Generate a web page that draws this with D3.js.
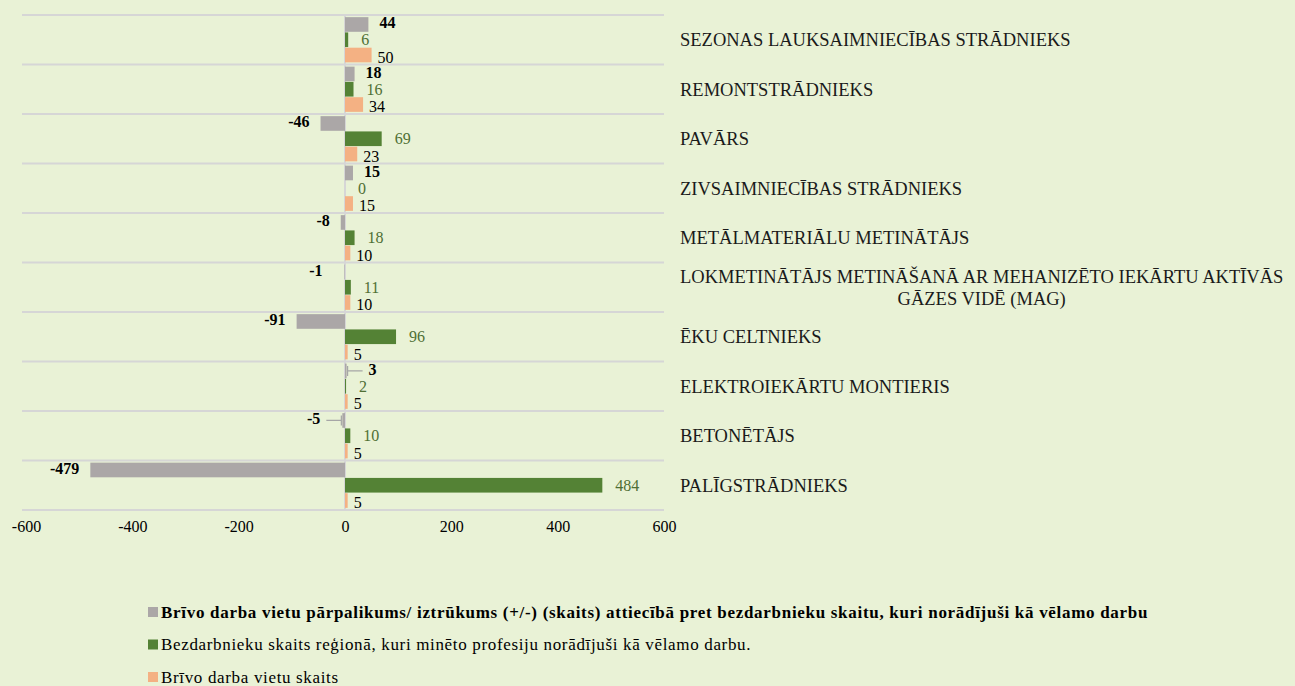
<!DOCTYPE html>
<html>
<head>
<meta charset="utf-8">
<script src="https://cdn.jsdelivr.net/npm/d3@7"></script>
<style>
  body { margin: 0; background: #e9f2d6; }
  svg { display: block; font-family: "Liberation Serif", "Times New Roman", serif; }
</style>
</head>
<body>
<div id="chart"></div>
<script>
const WIDTH = 1295;
const HEIGHT = 686;
const MARGINS = {left: 26, right: 631, top: 15, bottom: 176};

// data, top to bottom
const categories = [
  "SEZONAS LAUKSAIMNIECĪBAS STRĀDNIEKS",
  "REMONTSTRĀDNIEKS",
  "PAVĀRS",
  "ZIVSAIMNIECĪBAS STRĀDNIEKS",
  "METĀLMATERIĀLU METINĀTĀJS",
  "LOKMETINĀTĀJS METINĀŠANĀ AR MEHANIZĒTO IEKĀRTU AKTĪVĀS|GĀZES VIDĒ (MAG)",
  "ĒKU CELTNIEKS",
  "ELEKTROIEKĀRTU MONTIERIS",
  "BETONĒTĀJS",
  "PALĪGSTRĀDNIEKS"
];
const surplus = [44, 18, -46, 15, -8, -1, -91, 3, -5, -479];
const unemployed = [6, 16, 69, 0, 18, 11, 96, 2, 10, 484];
const vacancies = [50, 34, 23, 15, 10, 10, 5, 5, 5, 5];
const xTicks = [-600, -400, -200, 0, 200, 400, 600];

const seriesNames = [
  "Brīvo darba vietu pārpalikums/ iztrūkums (+/-) (skaits) attiecībā pret bezdarbnieku skaitu, kuri norādījuši kā vēlamo darbu",
  "Bezdarbnieku skaits reģionā, kuri minēto profesiju norādījuši kā vēlamo darbu.",
  "Brīvo darba vietu skaits"
];
const colors = ["#aba7a7", "#548235", "#f4b183"];
const labelColors = ["#000000", "#4f6f34", "#000000"];

const series = [surplus, unemployed, vacancies];
const keys = ["s0", "s1", "s2"];

let svg = d3.select("#chart")
  .append("svg")
    .attr("width", WIDTH)
    .attr("height", HEIGHT);

let x = d3.scaleLinear()
  .domain([-600, 600])
  .range([MARGINS.left, WIDTH - MARGINS.right]);

let y = d3.scaleBand()
  .domain(categories)
  .range([MARGINS.top, HEIGHT - MARGINS.bottom]);

let ySub = d3.scaleBand()
  .domain(keys)
  .range([0, y.bandwidth()])
  .paddingInner(0.04)
  .paddingOuter(0.14);

// horizontal gridlines at category boundaries
let bounds = categories.map(c => y(c)).concat([y.range()[1]]);
svg.append("g")
  .selectAll("line")
  .data(bounds)
  .join("line")
    .attr("x1", x(-600) - 4)
    .attr("x2", x(600))
    .attr("y1", d => d)
    .attr("y2", d => d)
    .attr("stroke", "#d6d6d6")
    .attr("stroke-width", 2);

// zero line
svg.append("line")
  .attr("x1", x(0)).attr("x2", x(0))
  .attr("y1", y.range()[0]).attr("y2", y.range()[1])
  .attr("stroke", "#d6d6d6")
  .attr("stroke-width", 2);

// bars
let rows = [];
categories.forEach((c, i) => {
  series.forEach((s, j) => {
    rows.push({cat: c, key: keys[j], j: j, v: s[i]});
  });
});

svg.append("g")
  .selectAll("rect")
  .data(rows)
  .join("rect")
    .attr("x", d => x(Math.min(0, d.v)))
    .attr("width", d => Math.abs(x(d.v) - x(0)))
    .attr("y", d => y(d.cat) + ySub(d.key))
    .attr("height", ySub.bandwidth())
    .attr("fill", d => colors[d.j]);

// value labels
const offsets = [11, 13, 6];
const yShift = [-2, 0, 2];
function labelX(d) {
  let off = offsets[d.j];
  if (d.j === 0 && Math.abs(d.v) <= 5) off = 22;
  if (d.j === 0 && d.v < 0) return x(d.v) - off;
  return x(Math.max(0, d.v)) + off;
}

// leader lines for tiny gray labels
let leaders = rows.filter(d => d.j === 0 && Math.abs(d.v) <= 5 && Math.abs(d.v) > 1);
svg.append("g")
  .selectAll("path")
  .data(leaders)
  .join("path")
    .attr("d", d => {
      let yy = y(d.cat) + ySub(d.key) + ySub.bandwidth() / 2;
      let x0 = x(d.v) + (d.v > 0 ? 1 : -1);
      let x1 = labelX(d) + (d.v > 0 ? -6 : 6);
      return "M" + x0 + "," + (yy - 5) + "V" + (yy + 5) + "M" + x0 + "," + yy + "H" + x1;
    })
    .attr("stroke", "#a6a6a6")
    .attr("stroke-width", 1.2)
    .attr("fill", "none");

svg.append("g")
  .selectAll("text")
  .data(rows)
  .join("text")
    .attr("x", labelX)
    .attr("y", d => y(d.cat) + ySub(d.key) + ySub.bandwidth() / 2 + yShift[d.j])
    .attr("dy", "0.35em")
    .attr("text-anchor", d => (d.j === 0 && d.v < 0) ? "end" : "start")
    .attr("font-size", 16)
    .attr("font-weight", d => d.j === 0 ? "bold" : "normal")
    .attr("fill", d => labelColors[d.j])
    .text(d => d.v);

// category labels on the right
let catG = svg.append("g");
categories.forEach(c => {
  let parts = c.split("|");
  let cy = y(c) + y.bandwidth() / 2;
  if (parts.length === 1) {
    catG.append("text")
      .attr("x", 680)
      .attr("y", cy)
      .attr("dy", "0.35em")
      .attr("font-size", 18.5)
      .attr("fill", "#1a1a1a")
      .text(c);
  } else {
    let t1 = catG.append("text")
      .attr("x", 680)
      .attr("y", cy - 11)
      .attr("dy", "0.35em")
      .attr("font-size", 18.5)
      .attr("fill", "#1a1a1a")
      .text(parts[0]);
    let w = t1.node().getComputedTextLength();
    catG.append("text")
      .attr("x", 680 + w / 2)
      .attr("y", cy + 11)
      .attr("dy", "0.35em")
      .attr("text-anchor", "middle")
      .attr("font-size", 18.5)
      .attr("fill", "#1a1a1a")
      .text(parts[1]);
  }
});

// x axis
let xAxis = svg.append("g")
  .attr("transform", "translate(0," + (y.range()[1] + 8) + ")")
  .call(d3.axisBottom(x).tickValues(xTicks).tickSize(0).tickFormat(d => String(d)));
xAxis.select(".domain").remove();
xAxis.selectAll("text")
  .attr("font-family", "Liberation Serif, serif")
  .attr("font-size", 16)
  .attr("fill", "#000");

// legend
let legend = svg.append("g")
  .selectAll("g")
  .data(seriesNames)
  .join("g")
    .attr("transform", (d, i) => "translate(148," + (612 + i * 32.5) + ")");
legend.append("rect")
  .attr("x", 0).attr("y", -5)
  .attr("width", 10).attr("height", 10)
  .attr("fill", (d, i) => colors[i]);
legend.append("text")
  .attr("x", 13)
  .attr("dy", "0.35em")
  .attr("font-size", 17)
  .attr("letter-spacing", (d, i) => i === 0 ? 0.7 : 0.66)
  .attr("font-weight", (d, i) => i === 0 ? "bold" : "normal")
  .attr("fill", "#000")
  .text(d => d);
</script>
</body>
</html>
